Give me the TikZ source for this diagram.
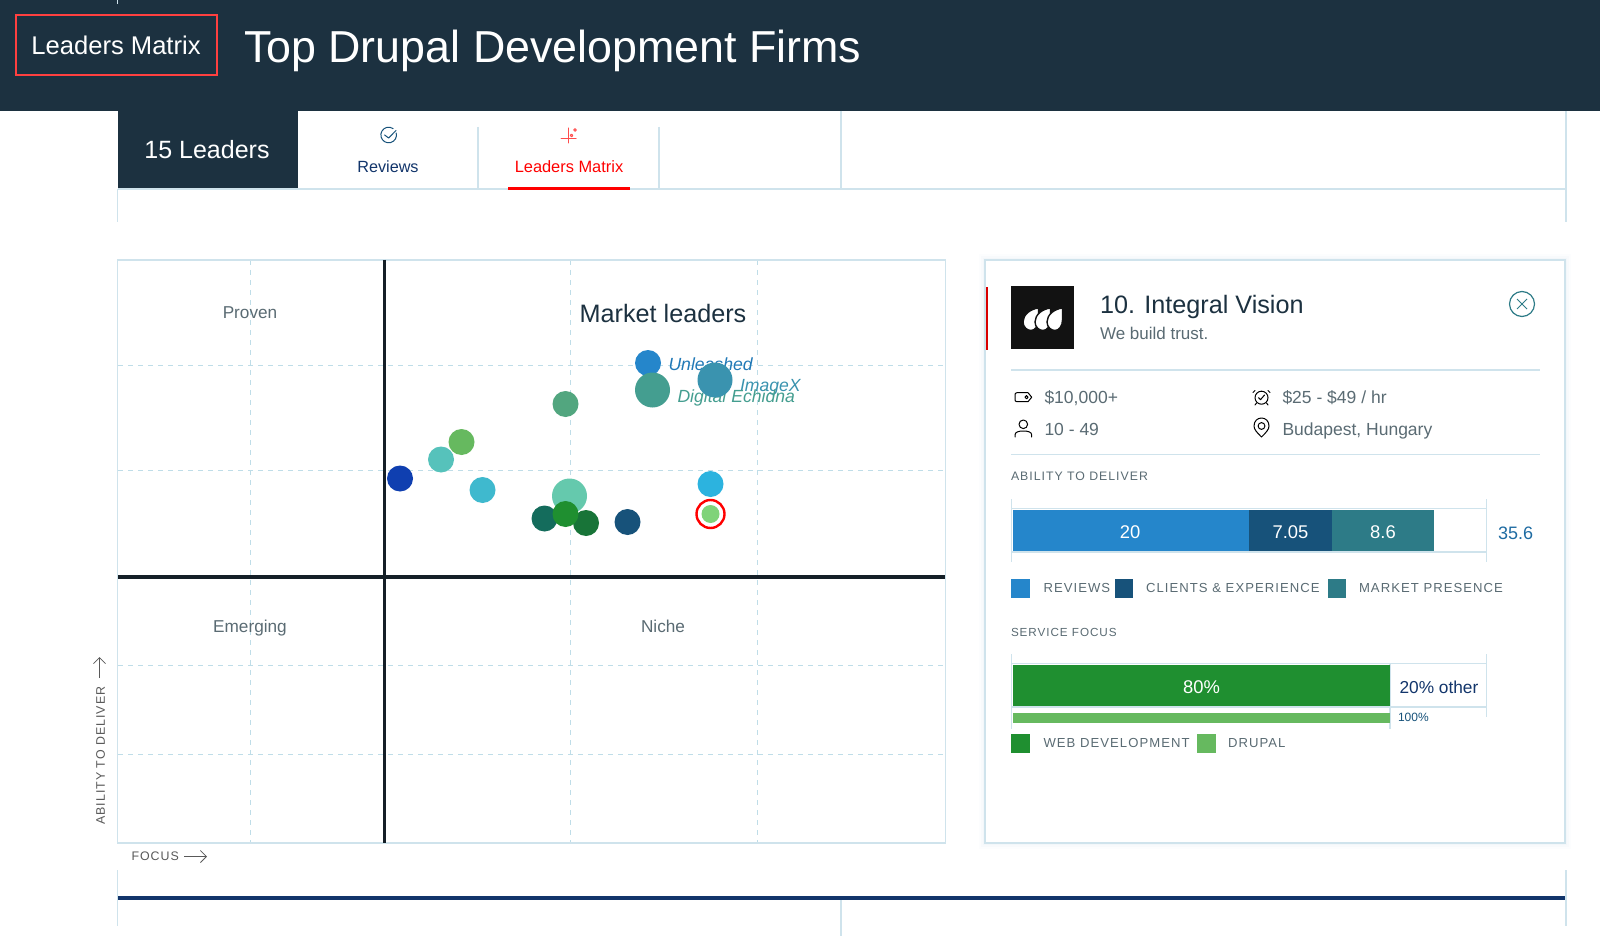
\documentclass[tikz,border=0pt]{standalone}
\usepackage{fontspec}
\setmainfont{Liberation Sans}
\usetikzlibrary{arrows.meta}
\definecolor{hdr}{HTML}{1C3140}
\definecolor{axisc}{HTML}{151F27}
\definecolor{rule}{HTML}{CFE3EC}
\definecolor{griddashc}{HTML}{BFDDE8}
\definecolor{muted}{HTML}{5A6B73}
\definecolor{navy}{HTML}{12356B}
\definecolor{cReviews}{HTML}{2586CB}
\definecolor{cClients}{HTML}{17527A}
\definecolor{cMarket}{HTML}{2D7B87}
\definecolor{cWeb}{HTML}{1F8F30}
\definecolor{cDrupal}{HTML}{66B95F}
\definecolor{dEchidna}{HTML}{449E90}
\definecolor{dImagex}{HTML}{3A93AF}
\definecolor{dA}{HTML}{52A67F}
\definecolor{dB}{HTML}{56C2BB}
\definecolor{dC}{HTML}{0F3FB0}
\definecolor{dD}{HTML}{3FB9CE}
\definecolor{dE}{HTML}{65C9AD}
\definecolor{dF}{HTML}{146C5C}
\definecolor{dG}{HTML}{187438}
\definecolor{dH}{HTML}{2CB3DF}
\definecolor{dI}{HTML}{7FD379}
\newcommand{\spaced}[1]{{\addfontfeature{LetterSpace=8}#1}}
\tikzset{
  x=0.5pt,y=-0.5pt,
  txt/.style={inner sep=0pt,outer sep=0pt,anchor=base west},
  ctr/.style={inner sep=0pt,outer sep=0pt,anchor=base},
  fnt/.style={font=\fontsize{#1}{#1}\selectfont,yshift=-0.36*#1 pt},
  rl/.style={draw=rule,line width=0.65pt},
  griddash/.style={draw=griddashc,line width=0.5pt,dash pattern=on 2.5pt off 2.5pt},
  axisline/.style={draw=axisc,line width=1.6pt},
  dot/.style 2 args={circle,fill=#1,minimum size=#2*0.5pt,inner sep=0pt,outer sep=0pt},
  swatch/.style={fill=#1,draw=none},
  icon/.style={draw=#1,line width=0.5pt,line cap=round,line join=round},
  captxt/.style={txt,fnt=6.55,text=muted},
  headtxt/.style={txt,fnt=6.15,text=muted},
  quad/.style={ctr,fnt=8.6,text=muted},
  co/.style={txt,font=\fontsize{8.8}{8.8}\selectfont\itshape,yshift=-3.1pt,text=#1},
  info/.style={txt,fnt=8.75,text=muted},
  barval/.style={ctr,fnt=9.2,text=white},
  axislab/.style={fnt=6.2,text=black!65},
  openarrow/.style={-{Straight Barb[length=3pt,width=6pt]},draw=black!65,line width=0.4pt},
  dropshape/.style={fill=white,draw=black!93,line width=0.7pt}
}
\begin{document}
\begin{tikzpicture}
\useasboundingbox (0,0) rectangle (1600,936);
\fill[white] (0,0) rectangle (1600,936);
% header
\fill[hdr] (0,0) rectangle (1600,111);
\draw[rl,line width=0.5pt] (117,0) -- (117,4);
\node[draw=red!75!white,line width=1.2pt,minimum width=100.5pt,minimum height=30pt,inner sep=0pt] (tagbox) at (116.5,45) {};
\node[ctr,fnt=12.8,text=white] (tag) at (116,45) {Leaders Matrix};
\node[txt,fnt=22.4,text=white] (title) at (244,46) {Top Drupal Development Firms};
% tabs
\fill[hdr] (118,111) rectangle (298,188);
\draw[rl] (118,189) -- (1566,189);
\draw[rl] (117.5,189) -- (117.5,222);
\draw[rl] (1566,111) -- (1566,222);
\draw[rl] (478,127) -- (478,189);
\draw[rl] (659,127) -- (659,189);
\draw[rl] (841,111) -- (841,189);
\node[ctr,fnt=12.5,text=white] (leaders) at (207,150) {15 Leaders};
\node[ctr,fnt=8.1,text=navy] (reviews) at (388,167) {Reviews};
\node[ctr,fnt=8.2,text=red] (matrix) at (569,167) {Leaders Matrix};
\fill[red] (508,187) rectangle (630,190);
% review icon
\draw[icon=cClients] (396.2,133) arc[start angle=-15,end angle=305,radius=7.8];
\draw[icon=cClients] (384.6,135) -- (388.6,138) -- (396,130.5);
% matrix icon
\draw[icon=red!70!white] (568,128) -- (568,143) (561,139) -- (576,139);
\draw[icon=red!70!white] (571.5,135.5) circle[radius=1.3] (575,130) circle[radius=1.3];
% chart
\draw[griddash] (250,260) -- (250,843) (570.5,260) -- (570.5,843) (757.5,260) -- (757.5,843);
\draw[griddash] (118,365.5) -- (945,365.5) (118,470.5) -- (945,470.5) (118,665) -- (945,665) (118,754) -- (945,754);
\draw[rl] (117.5,260) rectangle (945.5,843);
\draw[axisline] (384.3,260) -- (384.3,843);
\draw[axisline] (118,577) -- (945,577);
\node[quad] (proven) at (250,312) {Proven};
\node[ctr,fnt=12.6,text=hdr] (leadersq) at (663,313) {Market leaders};
\node[quad] (emerging) at (250,626) {Emerging};
\node[quad] (niche) at (663,626) {Niche};
% company labels
\node[co=cReviews!90!black] (lUnleashed) at (668.5,364) {Unleashed};
\node[co=dImagex] (lImagex) at (740,385) {ImageX};
\node[co=dEchidna] (lEchidna) at (677.5,396) {Digital Echidna};
% dots
\node[dot={cReviews}{26}] (d1) at (648,363) {};
\node[dot={dEchidna}{35}] (d2) at (652.5,390) {};
\node[dot={dImagex}{35}] (d3) at (715,380) {};
\node[dot={dA}{26}] (d4) at (565.5,404) {};
\node[dot={cDrupal}{26}] (d5) at (461.5,442) {};
\node[dot={dB}{26}] (d6) at (441,459.5) {};
\node[dot={dC}{26}] (d7) at (400,478.5) {};
\node[dot={dD}{26}] (d8) at (482.5,490) {};
\node[dot={dE}{35}] (d9) at (569.5,496) {};
\node[dot={dF}{26}] (d10) at (544.5,518.5) {};
\node[dot={dG}{26}] (d11) at (586,523) {};
\node[dot={cWeb}{26}] (d12) at (565.5,514) {};
\node[dot={cClients}{26}] (d13) at (627.5,522) {};
\node[dot={dH}{26}] (d14) at (710.5,484) {};
\node[circle,draw=red,line width=1.2pt,minimum size=14pt,inner sep=0pt] (ring) at (710.5,514) {};
\node[dot={dI}{18}] (d15) at (710.5,514) {};
% axis captions
\node[font=\fontsize{6.2}{6.2}\selectfont,text=black!65,rotate=90,anchor=mid west,inner sep=0pt] (ylab) at (99.5,825) {\spaced{ABILITY TO DELIVER}};
\coordinate (yA) at (99.5,678);
\coordinate (yB) at (99.5,657);
\draw[openarrow] (yA) -- (yB);
\node[txt,axislab] (xlab) at (131.5,856.5) {\spaced{FOCUS}};
\coordinate (xA) at (184,856.5);
\coordinate (xB) at (207,856.5);
\draw[openarrow] (xA) -- (xB);
% bottom strip
\draw[rl] (117.5,870) -- (117.5,926);
\draw[rl] (1566,870) -- (1566,926);
\draw[rl] (841,898) -- (841,936);
\draw[draw=navy,line width=2.2pt] (118,898) -- (1565,898);
% panel
\foreach \w/\o in {6pt/.05,4pt/.08,2pt/.12}{\draw[draw=rule,line width=\w,opacity=\o] (985,260) rectangle (1565,843);}
\draw[rl,fill=white] (985,260) rectangle (1565,843);
\fill[red!85!black] (986,287) rectangle (988,350);
\fill[black!93] (1011,286) rectangle (1074,349);
\foreach \dx in {0,12,24}{
  \path[dropshape,shift={(\dx,0)}] (1038.5,308) .. controls (1030,309) and (1023,315) .. (1023,322) .. controls (1023,327) and (1027,330.5) .. (1031,330.5) .. controls (1035,330.5) and (1038.5,326) .. (1038.5,320) -- cycle;
}
\node[txt,fnt=12.6,text=hdr] (name) at (1100,304) {10. Integral Vision};
\node[txt,fnt=8.5,text=muted] (motto) at (1100,333) {We build trust.};
\node[circle,draw=cMarket,line width=.6pt,minimum size=12.5pt,inner sep=0pt] (closeic) at (1522,304) {};
\draw[draw=cMarket,line width=.5pt] (closeic.center) ++(-5,-5) -- ++(10,10) (closeic.center) ++(5,-5) -- ++(-10,10);
\draw[rl] (1011,370) -- (1540,370);
\draw[rl] (1011,454.5) -- (1540,454.5);
\node[info] (budget) at (1044.5,397) {\$10,000+};
\node[info] (rate) at (1282.5,397) {\$25 - \$49 / hr};
\node[info] (size) at (1044.5,429) {10 - 49};
\node[info] (place) at (1282.5,429) {Budapest, Hungary};
% info icons
\draw[icon=black] (1028,392.7) -- (1017,392.7) .. controls (1015.5,392.7) and (1015,393.7) .. (1015,394.7) -- (1015,399.7) .. controls (1015,400.7) and (1015.5,401.7) .. (1017,401.7) -- (1028,401.7) -- (1031.7,397.2) -- cycle;
\draw[icon=black] (1026.5,397.2) circle[radius=1.6];
\draw[icon=black] (1261.5,397.7) circle[radius=6.5];
\draw[icon=black] (1258.5,397.7) -- (1260.5,399.7) -- (1264.5,395) (1255,390.5) -- (1253,392.5) (1268,390.5) -- (1270,392.5) (1256.5,403) -- (1255,405) (1266.5,403) -- (1268,405);
\draw[icon=black] (1023.3,424.3) circle[radius=4.3];
\draw[icon=black] (1015,437) -- (1015,435) .. controls (1015,432) and (1018.5,431) .. (1023.3,431) .. controls (1028,431) and (1031.7,432) .. (1031.7,435) -- (1031.7,437);
\draw[icon=black] (1261.5,437) .. controls (1257,432.5) and (1254,429.5) .. (1254,426) .. controls (1254,421) and (1257.5,418) .. (1261.5,418) .. controls (1265.5,418) and (1269,421) .. (1269,426) .. controls (1269,429.5) and (1266,432.5) .. (1261.5,437) -- cycle;
\draw[icon=black] (1261.5,426) circle[radius=3.4];
% ability section
\node[headtxt] (abil) at (1011,476) {\spaced{ABILITY TO DELIVER}};
\draw[rl] (1011.5,499) -- (1011.5,562) (1486.5,499) -- (1486.5,562);
\draw[rl] (1011.5,508.5) -- (1486.5,508.5) (1011.5,552) -- (1486.5,552);
\node[swatch=cReviews,inner sep=0pt,minimum width=118.25pt,minimum height=20.5pt,anchor=north west] (b1) at (1012.5,510) {};
\node[swatch=cClients,inner sep=0pt,minimum width=41.5pt,minimum height=20.5pt,anchor=north west] (b2) at (1249,510) {};
\node[swatch=cMarket,inner sep=0pt,minimum width=50.8pt,minimum height=20.5pt,anchor=north west] (b3) at (1332,510) {};
\node[barval] (v1) at (1130,532) {20};
\node[barval] (v2) at (1290.5,532) {7.05};
\node[barval] (v3) at (1383,532) {8.6};
\node[txt,fnt=9,text=cReviews!80!black] (total) at (1498,533) {35.6};
\fill[cReviews] (1011,579) rectangle (1030,597.5);
\node[captxt] (lg1) at (1043.5,588) {\spaced{REVIEWS}};
\fill[cClients] (1114.5,579) rectangle (1133,597.5);
\node[captxt] (lg2) at (1146,588) {\spaced{CLIENTS \& EXPERIENCE}};
\fill[cMarket] (1327.5,579) rectangle (1346,597.5);
\node[captxt] (lg3) at (1359,588) {\spaced{MARKET PRESENCE}};
% service focus
\node[headtxt,font=\fontsize{5.85}{5.85}\selectfont] (serv) at (1011,632) {\spaced{SERVICE FOCUS}};
\draw[rl] (1011.5,654) -- (1011.5,729) (1486.5,654) -- (1486.5,717) (1390,664) -- (1390,729);
\draw[rl] (1011.5,663.5) -- (1486.5,663.5) (1011.5,707) -- (1486.5,707);
\node[swatch=cWeb,inner sep=0pt,minimum width=188.75pt,minimum height=20.5pt,anchor=north west] (b4) at (1012.5,665) {};
\node[swatch=cDrupal,inner sep=0pt,minimum width=188.5pt,minimum height=4.8pt,anchor=north west] (b5) at (1012.5,713) {};
\node[barval] (v4) at (1201.5,687) {80\%};
\node[txt,fnt=8.65,text=navy] (other) at (1399.5,687) {20\% other};
\node[txt,fnt=6,text=cClients] (hund) at (1398,717) {100\%};
\fill[cWeb] (1011,734) rectangle (1030,752.5);
\node[captxt] (lg4) at (1043.5,743) {\spaced{WEB DEVELOPMENT}};
\fill[cDrupal] (1197,734) rectangle (1216,752.5);
\node[captxt] (lg5) at (1228,743) {\spaced{DRUPAL}};
\end{tikzpicture}
\end{document}
